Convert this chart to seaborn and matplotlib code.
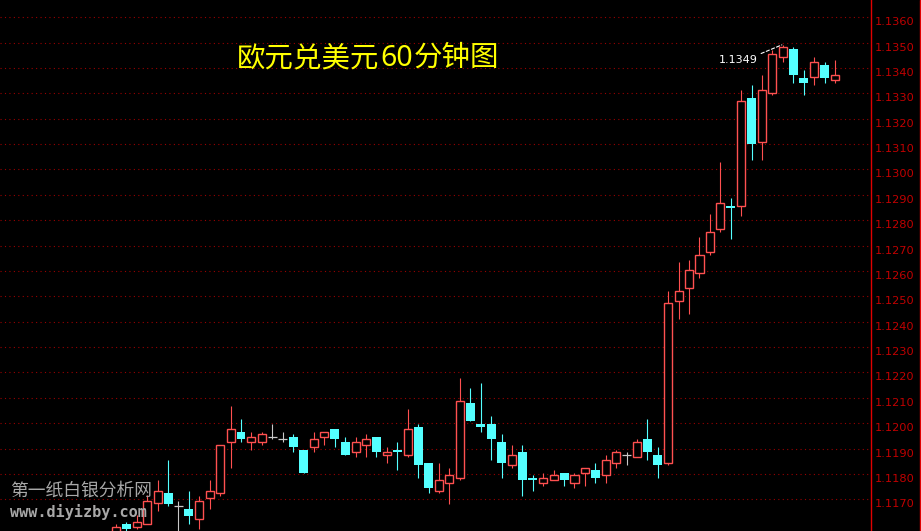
import numpy as np
import pandas as pd
import matplotlib
matplotlib.use("Agg")
import matplotlib.pyplot as plt
from matplotlib.lines import Line2D
import seaborn as sns

# EUR/USD 60 min candles (left -> right)
opens = [
    1.11567, 1.11603, 1.11591, 1.11603, 1.11685, 1.11725, 1.11674, 1.11662, 1.11622, 1.11705,
    1.11725, 1.11926, 1.11965, 1.11926, 1.11926, 1.11946, 1.11938, 1.11946, 1.11894, 1.11906,
    1.11946, 1.11977, 1.11926, 1.11886, 1.11914, 1.11946, 1.11875, 1.11894, 1.11875, 1.11985,
    1.11843, 1.11733, 1.11764, 1.11784, 1.12080, 1.11997, 1.11997, 1.11926, 1.11835, 1.11886,
    1.11784, 1.11764, 1.11776, 1.11804, 1.11764, 1.11804, 1.11816, 1.11796, 1.11843, 1.11875,
    1.11867, 1.11938, 1.11875, 1.11843, 1.12482, 1.12533, 1.12592, 1.12675, 1.12766, 1.12856,
    1.12856, 1.13282, 1.13108, 1.13302, 1.13444, 1.13475, 1.13361, 1.13365, 1.13412, 1.13353,
]
highs = [
    1.11603, 1.11611, 1.11638, 1.11717, 1.11776, 1.11855, 1.11693, 1.11733, 1.11713, 1.11776,
    1.11914, 1.12068, 1.12017, 1.11965, 1.11965, 1.11997, 1.11965, 1.11957, 1.11894, 1.11965,
    1.11965, 1.11977, 1.11946, 1.11946, 1.11957, 1.11946, 1.11906, 1.11926, 1.12056, 1.11997,
    1.11843, 1.11843, 1.11823, 1.12178, 1.12139, 1.12158, 1.12028, 1.11957, 1.11914, 1.11914,
    1.11796, 1.11804, 1.11816, 1.11804, 1.11804, 1.11823, 1.11843, 1.11875, 1.11894, 1.11886,
    1.11938, 1.12017, 1.11906, 1.12521, 1.12635, 1.12643, 1.12734, 1.12825, 1.13030, 1.12888,
    1.13313, 1.13333, 1.13373, 1.13471, 1.13491, 1.13483, 1.13392, 1.13444, 1.13424, 1.13432,
]
lows = [
    1.11560, 1.11575, 1.11583, 1.11603, 1.11654, 1.11674, 1.11570, 1.11603, 1.11583, 1.11662,
    1.11713, 1.11823, 1.11926, 1.11894, 1.11914, 1.11938, 1.11926, 1.11886, 1.11804, 1.11886,
    1.11914, 1.11906, 1.11875, 1.11867, 1.11867, 1.11867, 1.11843, 1.11816, 1.11867, 1.11784,
    1.11725, 1.11725, 1.11681, 1.11776, 1.12009, 1.11965, 1.11855, 1.11784, 1.11823, 1.11713,
    1.11733, 1.11752, 1.11776, 1.11752, 1.11745, 1.11752, 1.11764, 1.11764, 1.11823, 1.11835,
    1.11867, 1.11855, 1.11784, 1.11835, 1.12411, 1.12430, 1.12572, 1.12663, 1.12754, 1.12726,
    1.12817, 1.13038, 1.13038, 1.13294, 1.13424, 1.13341, 1.13294, 1.13333, 1.13341, 1.13341,
]
closes = [
    1.11591, 1.11583, 1.11611, 1.11693, 1.11733, 1.11681, 1.11674, 1.11634, 1.11693, 1.11733,
    1.11914, 1.11977, 1.11938, 1.11946, 1.11957, 1.11946, 1.11938, 1.11906, 1.11804, 1.11938,
    1.11965, 1.11938, 1.11875, 1.11926, 1.11938, 1.11886, 1.11886, 1.11886, 1.11977, 1.11835,
    1.11745, 1.11776, 1.11796, 1.12088, 1.12009, 1.11985, 1.11938, 1.11843, 1.11875, 1.11776,
    1.11776, 1.11784, 1.11796, 1.11776, 1.11796, 1.11823, 1.11784, 1.11855, 1.11886, 1.11875,
    1.11926, 1.11886, 1.11835, 1.12474, 1.12521, 1.12604, 1.12663, 1.12754, 1.12868, 1.12848,
    1.13270, 1.13101, 1.13313, 1.13455, 1.13483, 1.13373, 1.13341, 1.13424, 1.13361, 1.13373,
]

price_ticks = [1.1170, 1.1180, 1.1190, 1.1200, 1.1210, 1.1220, 1.1230, 1.1240, 1.1250, 1.1260,
               1.1270, 1.1280, 1.1290, 1.1300, 1.1310, 1.1320, 1.1330, 1.1340, 1.1350, 1.1360]
tick_labels = [f"{t:.4f}" for t in price_ticks]

title_parts = ["欧元兑美元", "60", "分钟图"]
watermark = ["第一纸白银分析网", "www.diyizby.com"]
peak_label = "1.1349"

RED = "#FF5050"
CYAN = "#54FFFF"
GRAY = "#C8C8C8"
GRID = "#9A0000"
AXIS = "#E00000"

sns.set_theme(style="dark", rc={"axes.facecolor": "black", "figure.facecolor": "black"})
plt.rcParams["font.family"] = ["DejaVu Sans"]

df = pd.DataFrame({"open": opens, "high": highs, "low": lows, "close": closes})
df["x"] = np.arange(len(df))
up = df[df.close > df.open]
down = df[df.close < df.open]
flat = df[df.close == df.open]

W, H = 921, 531
fig = plt.figure(figsize=(W / 100, H / 100), dpi=100, facecolor="black")
ax = fig.add_axes([0, 0, 871 / W, 1])
ax.set_facecolor("black")

# up candles: hollow red
ax.vlines(up.x, up.low, up.high, color=RED, lw=0.8, zorder=2)
ax.bar(up.x, up.close - up.open, bottom=up.open, width=0.78,
       facecolor="black", edgecolor=RED, linewidth=1.0, zorder=3)
# down candles: filled cyan
ax.vlines(down.x, down.low, down.high, color=CYAN, lw=0.8, zorder=2)
ax.bar(down.x, down.open - down.close, bottom=down.close, width=0.86,
       color=CYAN, linewidth=0, zorder=3)
# doji
ax.vlines(flat.x, flat.low, flat.high, color=GRAY, lw=0.8, zorder=2)
ax.hlines(flat.close, flat.x - 0.43, flat.x + 0.43, color=GRAY, lw=0.9, zorder=3)

ax.set_xlim(-11.13, 72.46)
ax.set_ylim(1.11575, 1.13668)
ax.set_xticks([])
ax.set_yticks(price_ticks)
ax.set_yticklabels(tick_labels)
ax.yaxis.tick_right()
ax.tick_params(axis="y", length=0, pad=3, labelcolor="#C00000", labelsize=8.2)
for lab in ax.get_yticklabels():
    lab.set_verticalalignment("top")
ax.grid(axis="y", color=GRID, linestyle=(0, (1, 3)), linewidth=0.8)
ax.grid(axis="x", visible=False)
for s in ["left", "top", "bottom"]:
    ax.spines[s].set_visible(False)
ax.spines["right"].set_color(AXIS)
ax.spines["right"].set_linewidth(1.0)

fig.add_artist(Line2D([919.5 / W] * 2, [0, 1], color=AXIS, lw=1.0, transform=fig.transFigure))

# peak annotation
pk = int(np.argmax(highs))
ax.annotate(peak_label, xy=(pk - 0.1, highs[pk]), xytext=(61.6, 1.13432),
            ha="right", va="center", color="white", fontsize=8,
            arrowprops=dict(arrowstyle="-", color="white", lw=0.8, linestyle=(0, (3, 2)),
                            shrinkA=0, shrinkB=0, relpos=(1, 1)), zorder=5)

# title, "60" in bold
fig.canvas.draw()
renderer = fig.canvas.get_renderer()
base_y = 1 - 66 / H
x0 = 237 / W
cjk = ["Noto Sans CJK SC", "DejaVu Sans"]
t1 = fig.text(x0, base_y, title_parts[0], color="#FFFF00", fontsize=20.5, family=cjk, va="baseline")
x1 = fig.transFigure.inverted().transform(t1.get_window_extent(renderer))[1, 0]
t2 = fig.text(x1 + 1 / W, base_y, title_parts[1], color="#FFFF00", fontsize=20.5,
              family=["Noto Sans"], weight="bold", va="baseline")
x2 = fig.transFigure.inverted().transform(t2.get_window_extent(renderer))[1, 0]
fig.text(x2 + 1 / W, base_y, title_parts[2], color="#FFFF00", fontsize=20.5, family=cjk, va="baseline")

# watermark
fig.text(10 / W, 1 - 496 / H, watermark[0], color="#A8A8A8", fontsize=12.8, family=cjk,
         va="baseline", zorder=6)
fig.text(10 / W, 1 - 517 / H, watermark[1], color="#A8A8A8", fontsize=10.9,
         family=["DejaVu Sans Mono"], weight="bold", va="baseline", zorder=6)

fig.savefig("out.png", dpi=100, facecolor="black")
